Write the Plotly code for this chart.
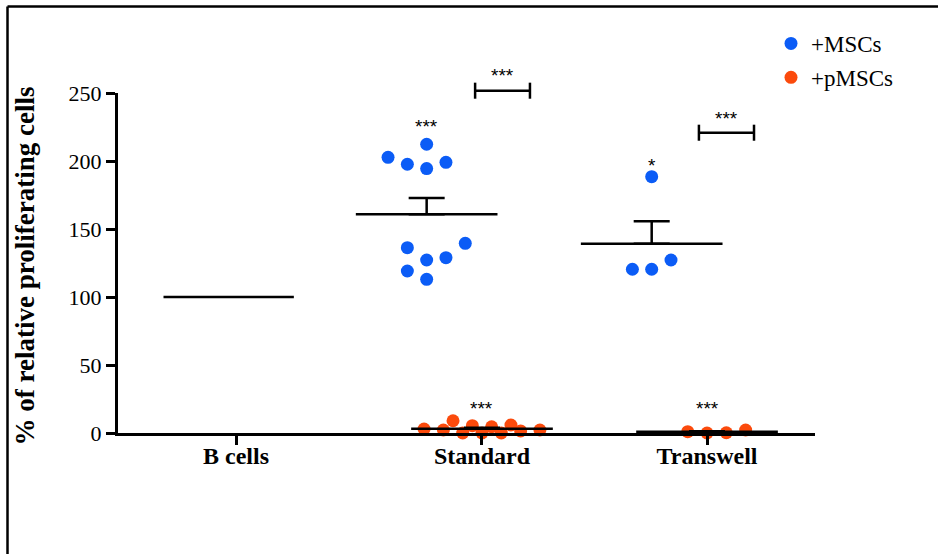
import numpy as np
import plotly.graph_objects as go

# ---------------- data ----------------
categories = ["B cells", "Standard", "Transwell"]
bcells_level = [100.0]
std_msc = [212.3, 202.7, 197.6, 194.4, 199.0, 136.3, 139.5, 127.2, 128.9, 119.1, 113.0]
tw_msc = [188.5, 120.4, 120.4, 127.2]
std_pmsc = [2.9, 2.2, 9.0, 0.0, 5.4, 0.0, 4.6, 0.0, 5.9, 1.5, 2.2]
tw_pmsc = [1.0, 0.0, 0.2, 2.2]
series_names = ["+MSCs", "+pMSCs"]
sig_vs_bcells_msc = ["***", "*"]
sig_vs_bcells_pmsc = ["***", "***"]
sig_msc_vs_pmsc = ["***", "***"]
y_ticks = [0, 50, 100, 150, 200, 250]

# ---------------- layout / style constants ----------------
BLUE = "#0b5cf6"
ORANGE = "#fb4a0c"
SERIF = "Liberation Serif"
SANS = "Liberation Sans"
CAT_X = [0.0, 1.0, 1.915]          # category positions on the x axis
X_RANGE = [-0.48, 2.354]
Y_RANGE = [0, 250]
STEP = 0.0785                        # swarm step between neighbouring dots
MSC_OFF = -0.225                     # MSC group sits left of the tick
PMSC_OFF = 0.0
SW_STD_MSC = [0, -2, -1, 0, 1, -1, 2, 0, 1, -1, 0]
SW_TW_MSC = [0, -1, 0, 1]
SW_STD_PMSC = [-3, -2, -1.5, -1, -0.5, 0, 0.5, 1, 1.5, 2, 3]
SW_TW_PMSC = [-1, 0, 1, 2]
HALF_MEAN = 0.288
HALF_B = 0.265
B_OFF = -0.03
ML, MR, MT, MB = 118, 123, 93, 121
W, H = 938, 554
PW, PH = W - ML - MR, H - MT - MB


def px_x(X):
    return (X - ML) / PW


def px_y(Y):
    return (H - MB - Y) / PH


def vy(v):
    return (v - Y_RANGE[0]) / (Y_RANGE[1] - Y_RANGE[0])


def sem(a):
    a = np.asarray(a, float)
    return a.std(ddof=1) / np.sqrt(len(a))


fig = go.Figure()

groups = [
    (std_msc, CAT_X[1] + MSC_OFF, SW_STD_MSC, BLUE, series_names[0], True),
    (tw_msc, CAT_X[2] + MSC_OFF, SW_TW_MSC, BLUE, series_names[0], False),
    (std_pmsc, CAT_X[1] + PMSC_OFF, SW_STD_PMSC, ORANGE, series_names[1], True),
    (tw_pmsc, CAT_X[2] + PMSC_OFF, SW_TW_PMSC, ORANGE, series_names[1], False),
]

# points
for vals, cx, sw, col, name, show in groups:
    fig.add_trace(go.Scatter(
        x=[cx + s * STEP for s in sw], y=vals, mode="markers",
        marker=dict(color=col, size=13, line=dict(width=0)),
        name=name, showlegend=show, legendgroup=name, cliponaxis=False,
        hoverinfo="skip"))

# mean lines + SEM (upper) bars
for vals, cx, sw, col, name, show in groups:
    m = float(np.mean(vals))
    fig.add_trace(go.Scatter(
        x=[cx - HALF_MEAN, cx + HALF_MEAN], y=[m, m], mode="lines",
        line=dict(color="black", width=2.5), showlegend=False,
        hoverinfo="skip", cliponaxis=False))
    fig.add_trace(go.Scatter(
        x=[cx], y=[m], mode="markers", marker=dict(size=1, color="rgba(0,0,0,0)"),
        error_y=dict(type="data", symmetric=False, array=[sem(vals)], arrayminus=[0],
                     color="black", thickness=2.5, width=18),
        showlegend=False, hoverinfo="skip", cliponaxis=False))

# B cells reference line
bx = CAT_X[0] + B_OFF
fig.add_trace(go.Scatter(
    x=[bx - HALF_B, bx + HALF_B], y=[bcells_level[0]] * 2, mode="lines",
    line=dict(color="black", width=2.5), showlegend=False, hoverinfo="skip"))

shapes = []

# brackets for MSC vs pMSC comparisons
BR_Y = [251.7, 220.8]
BR_X = [(0.972, 1.195), (1.882, 2.106)]
BR_CAP = 5.9
for (x0, x1), yb in zip(BR_X, BR_Y):
    for seg in [((x0, yb), (x1, yb)), ((x0, yb - BR_CAP), (x0, yb + BR_CAP)),
                ((x1, yb - BR_CAP), (x1, yb + BR_CAP))]:
        shapes.append(dict(type="line", xref="x", yref="paper",
                           x0=seg[0][0], y0=vy(seg[0][1]), x1=seg[1][0], y1=vy(seg[1][1]),
                           line=dict(color="black", width=2.5)))

# frame of the figure (cropped)
FL, FT = 7.5, 6.5
shapes.append(dict(type="line", xref="paper", yref="paper", x0=px_x(FL), x1=px_x(FL),
                   y0=px_y(H + 10), y1=px_y(FT), line=dict(color="black", width=2.5)))
shapes.append(dict(type="line", xref="paper", yref="paper", x0=px_x(FL), x1=px_x(W + 10),
                   y0=px_y(FT), y1=px_y(FT), line=dict(color="black", width=2.5)))

annotations = []
STAR_SHIFT = -5


def star(text, x, yv):
    annotations.append(dict(text=text, x=x, y=vy(yv), xref="x", yref="paper",
                            showarrow=False, xanchor="center", yanchor="middle",
                            yshift=STAR_SHIFT, font=dict(family=SANS, size=19, color="black")))


star(sig_vs_bcells_msc[0], CAT_X[1] + MSC_OFF, 229.4)
star(sig_vs_bcells_msc[1], CAT_X[2] + MSC_OFF, 200.7)
star(sig_vs_bcells_pmsc[0], CAT_X[1] + PMSC_OFF, 22.0)
star(sig_vs_bcells_pmsc[1], CAT_X[2] + PMSC_OFF, 22.0)
star(sig_msc_vs_pmsc[0], sum(BR_X[0]) / 2, 266.5)
star(sig_msc_vs_pmsc[1], sum(BR_X[1]) / 2, 235.0)

# y axis title
annotations.append(dict(text="<b>% of relative proliferating cells</b>", x=px_x(25), y=0.49,
                        xref="paper", yref="paper", textangle=-90, showarrow=False,
                        xanchor="center", yanchor="middle",
                        font=dict(family=SERIF, size=27, color="black")))

fig.update_layout(
    width=W, height=H, margin=dict(l=ML, r=MR, t=MT, b=MB),
    paper_bgcolor="white", plot_bgcolor="white",
    shapes=shapes, annotations=annotations,
    showlegend=True,
    legend=dict(x=px_x(771), y=px_y(22), xanchor="left", yanchor="top",
                font=dict(family=SERIF, size=23, color="black"),
                bgcolor="rgba(0,0,0,0)", tracegroupgap=1),
    xaxis=dict(range=X_RANGE, tickmode="array", tickvals=CAT_X,
               ticktext=["<b>%s</b>" % c for c in categories],
               tickfont=dict(family=SERIF, size=24, color="black"),
               showline=True, linecolor="black", linewidth=3,
               ticks="outside", ticklen=9, tickwidth=3, tickcolor="black",
               ticklabelstandoff=-10,
               showgrid=False, zeroline=False, fixedrange=True),
    yaxis=dict(range=Y_RANGE, tickmode="array", tickvals=y_ticks,
               tickfont=dict(family=SERIF, size=22, color="black"),
               showline=True, linecolor="black", linewidth=3,
               ticks="outside", ticklen=9, tickwidth=3, tickcolor="black",
               showgrid=False, zeroline=False, fixedrange=True),
)

fig.write_html("out.html")
